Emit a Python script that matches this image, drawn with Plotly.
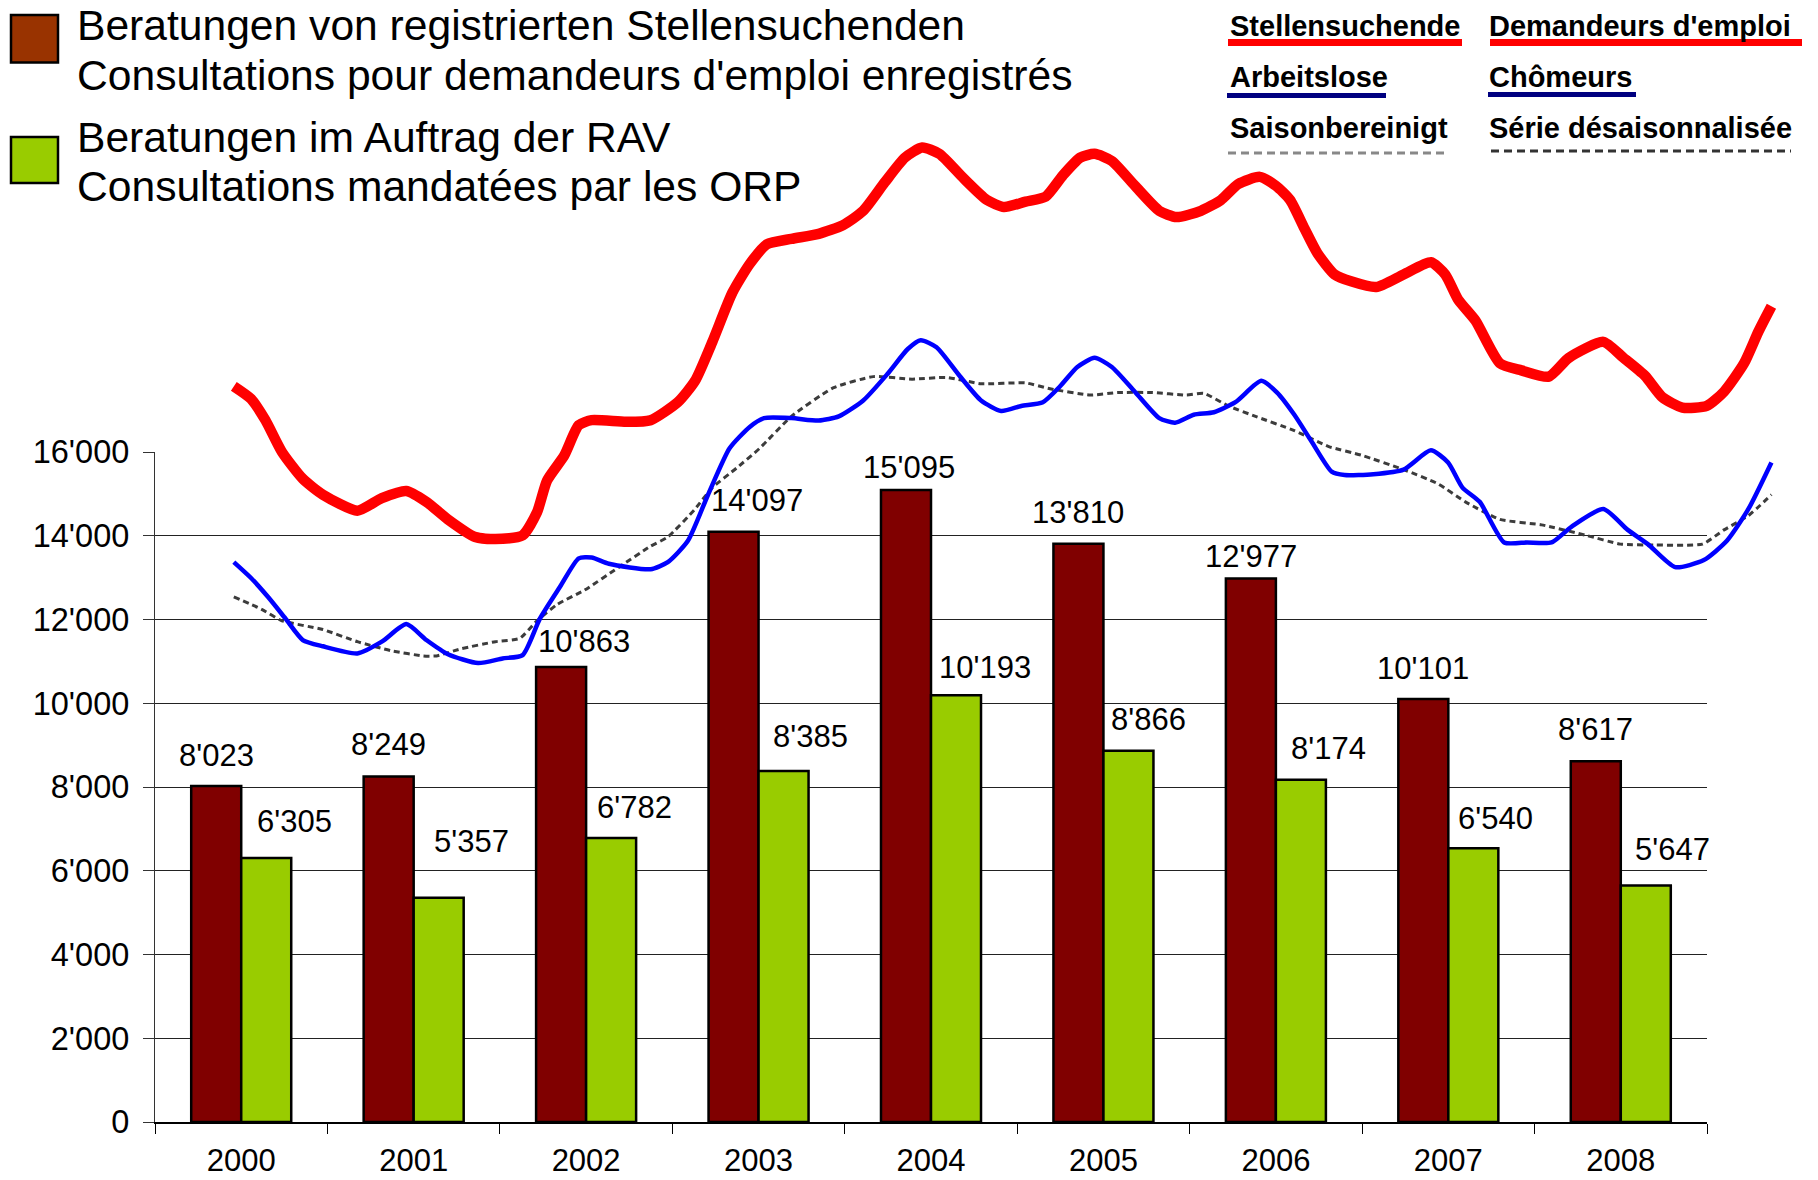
import plotly.graph_objects as go

W, H = 1818, 1180

# ---------------- data ----------------
years = ["2000", "2001", "2002", "2003", "2004", "2005", "2006", "2007", "2008"]
registered = [8023, 8249, 10863, 14097, 15095, 13810, 12977, 10101, 8617]
mandated = [6305, 5357, 6782, 8385, 10193, 8866, 8174, 6540, 5647]

y_tick_vals = [0, 2000, 4000, 6000, 8000, 10000, 12000, 14000, 16000]
y_tick_text = ["0", "2'000", "4'000", "6'000", "8'000", "10'000", "12'000", "14'000", "16'000"]

# monthly overlay series (months since Jan 2000, value on an unlabelled scale)
red_m = [0, 1.2, 2.2, 3.35, 4.8, 6.2, 8.6, 10.3, 12.0, 13.4, 14.9, 16.8, 18.2, 20.1, 21.1, 21.8, 23.0, 24.0,
         24.9, 27.3, 29.0, 30.9, 32.1, 33.3, 34.7, 35.9, 37.1, 38.8, 40.7, 42.4, 43.8, 45.3, 46.7, 47.9, 49.1,
         50.8, 52.4, 53.6, 55.1, 56.5, 57.7, 58.9, 59.9, 61.1, 62.7, 64.4, 65.6, 67.3, 68.7, 69.9, 71.4, 72.5,
         73.5, 74.5, 75.4, 76.6, 77.8, 79.5, 81.4, 83.3, 84.3, 85.2, 86.4, 88.1, 89.6, 91.5, 92.9, 95.3, 96.7,
         98.2, 99.4, 100.8, 102.5, 103.7, 105.1, 106.1, 107.0]
red_v = [17570, 17270, 16760, 16000, 15360, 14980, 14600, 14900, 15070, 14810, 14390, 13970, 13920, 14010, 14560,
         15320, 15920, 16640, 16760, 16720, 16760, 17190, 17700, 18630, 19810, 20490, 20960, 21090, 21210, 21420,
         21760, 22440, 23030, 23270, 23120, 22530, 22020, 21850, 21980, 22100, 22610, 23030, 23120, 22950, 22360,
         21760, 21610, 21760, 22020, 22400, 22570, 22360, 22020, 21340, 20750, 20240, 20070, 19940, 20240, 20530,
         20240, 19640, 19140, 18120, 17950, 17800, 18250, 18630, 18250, 17820, 17310, 17060, 17100, 17440, 18120,
         18880, 19480]

blue_m = [0, 1.2, 2.4, 3.6, 4.8, 6.2, 8.6, 10.3, 12.0, 13.4, 14.9, 17.0, 18.7, 20.1, 21.3, 22.7, 24.0, 24.9,
          26.1, 29.0, 30.2, 31.6, 33.0, 34.5, 35.9, 36.9, 38.8, 40.7, 42.1, 43.8, 45.5, 46.9, 47.8, 48.9, 50.5,
          52.0, 53.4, 54.8, 56.3, 57.5, 58.7, 59.9, 61.1, 62.7, 64.4, 65.5, 66.8, 68.2, 69.7, 71.5, 72.6, 73.8,
          75.0, 76.4, 77.3, 79.3, 81.4, 83.3, 84.5, 85.5, 86.7, 88.4, 90.0, 91.7, 93.1, 95.3, 97.0, 98.4, 100.3,
          102.3, 103.9, 105.4, 107.0]
blue_v = [13370, 12990, 12530, 12020, 11510, 11360, 11190, 11470, 11890, 11510, 11170, 10960, 11070, 11150, 12020,
          12780, 13460, 13480, 13330, 13200, 13370, 13880, 14980, 16090, 16600, 16810, 16810, 16750, 16850, 17230,
          17870, 18460, 18670, 18500, 17820, 17230, 16980, 17100, 17190, 17570, 18030, 18250, 18030, 17440, 16810,
          16700, 16890, 16950, 17190, 17700, 17420, 16890, 16250, 15530, 15450, 15470, 15580, 16040, 15750, 15150,
          14810, 13840, 13840, 13840, 14220, 14640, 14140, 13800, 13250, 13420, 13880, 14640, 15750]

sa_m = [0, 1.9, 3.35, 6.2, 8.6, 11.0, 13.2, 14.1, 15.8, 18.2, 19.9, 21.1, 22.5, 24.4, 26.8, 29.0, 30.2, 32.1,
        33.3, 35.0, 36.6, 38.8, 41.7, 44.5, 47.2, 49.6, 52.0, 55.1, 56.8, 59.6, 61.5, 63.9, 66.3, 67.5, 69.2,
        71.1, 73.8, 76.2, 78.5, 81.4, 83.8, 85.7, 88.1, 91.0, 94.1, 96.5, 98.9, 102.2, 103.7, 105.4, 107.0]
sa_v = [12540, 12250, 11970, 11760, 11470, 11250, 11130, 11130, 11300, 11470, 11550, 11970, 12360, 12700, 13250,
        13750, 13970, 14640, 15150, 15620, 16090, 16850, 17530, 17800, 17740, 17780, 17630, 17650, 17510, 17360,
        17420, 17420, 17360, 17400, 17100, 16850, 16510, 16130, 15920, 15580, 15240, 14810, 14390, 14260, 14010,
        13800, 13780, 13800, 14140, 14480, 14980]

legend_left = [
    ("Beratungen von registrierten Stellensuchenden", "Consultations pour demandeurs d'emploi enregistrés"),
    ("Beratungen im Auftrag der RAV", "Consultations mandatées par les ORP"),
]
legend_right = [
    ("Stellensuchende", "Demandeurs d'emploi"),
    ("Arbeitslose", "Chômeurs"),
    ("Saisonbereinigt", "Série désaisonnalisée"),
]

# ---------------- styles / layout geometry ----------------
FONT = "Liberation Sans, Arial, sans-serif"
RED_BAR, GREEN_BAR = "#800000", "#99cc00"
PX_L, PX_R, PX_R2 = 155, 1707, 1800       # plot left / right, overlay right (px)
PY_0, PY_16, PY_TOP = 1122, 452, 0        # zero line, 16'000 line, overlay top (px)

def fx(px):
    return px / W

def fy(py):
    return 1 - py / H

t_off = 0.043  # Jan 2000 sits slightly left of the 2000 category centre
x2_lo = 2000 - 0.5 + t_off
x2_hi = x2_lo + 9 * (PX_R2 - PX_L) / (PX_R - PX_L)
y2_hi = 16000 * (PY_0 - PY_TOP) / (PY_0 - PY_16)

fig = go.Figure()
fig.add_trace(go.Bar(x=years, y=registered, marker=dict(color=RED_BAR, line=dict(color="black", width=2.5)),
                     name="reg", showlegend=False, hoverinfo="skip"))
fig.add_trace(go.Bar(x=years, y=mandated, marker=dict(color=GREEN_BAR, line=dict(color="black", width=2.5)),
                     name="rav", showlegend=False, hoverinfo="skip"))

def tyear(ms):
    return [2000 + m / 12 for m in ms]

fig.add_trace(go.Scatter(x=tyear(sa_m), y=sa_v, mode="lines", xaxis="x2", yaxis="y2", showlegend=False,
                         line=dict(color="#3c3c3c", width=3, dash="6px,4px", shape="spline", smoothing=0.5)))
fig.add_trace(go.Scatter(x=tyear(blue_m), y=blue_v, mode="lines", xaxis="x2", yaxis="y2", showlegend=False,
                         line=dict(color="#0000ff", width=4.5, shape="spline", smoothing=0.6)))
fig.add_trace(go.Scatter(x=tyear(red_m), y=red_v, mode="lines", xaxis="x2", yaxis="y2", showlegend=False,
                         line=dict(color="#ff0000", width=10.5, shape="spline", smoothing=0.6)))

def fmt(v):
    return f"{v:,}".replace(",", "'")

annotations = []
red_dx = [0, 0, 23, 23, 3, 0, 0, 0, 0]
red_dy = [31, 32, 26, 31, 22, 31, 22, 31, 32]
green_dx = [28, 33, 23, 27, 29, 20, 28, 22, 27]
green_dy = [36, 56, 31, 34, 28, 31, 31, 30, 36]
for i, yr in enumerate(years):
    annotations.append(dict(x=i, y=registered[i], xref="x", yref="y", text=fmt(registered[i]), showarrow=False,
                            xshift=-25 + red_dx[i], yshift=red_dy[i], yanchor="middle",
                            font=dict(family=FONT, size=31, color="black")))
    annotations.append(dict(x=i, y=mandated[i], xref="x", yref="y", text=fmt(mandated[i]), showarrow=False,
                            xshift=25 + green_dx[i], yshift=green_dy[i], yanchor="middle",
                            font=dict(family=FONT, size=31, color="black")))

# left legend text
left_baselines = [(38, 88), (150, 199)]
for (l1, l2), (b1, b2) in zip(legend_left, left_baselines):
    for txt, b in ((l1, b1), (l2, b2)):
        annotations.append(dict(x=fx(75), y=fy(b - 13), xref="paper", yref="paper", text=txt, showarrow=False,
                                xanchor="left", yanchor="middle", font=dict(family=FONT, size=42.6, color="black")))

# right legend text
right_rows = [35, 86, 137]
for (de, fr), b in zip(legend_right, right_rows):
    annotations.append(dict(x=fx(1228), y=fy(b - 9), xref="paper", yref="paper", text=f"<b>{de}</b>",
                            showarrow=False, xanchor="left", yanchor="middle",
                            font=dict(family=FONT, size=29, color="black")))
    annotations.append(dict(x=fx(1487), y=fy(b - 9), xref="paper", yref="paper", text=f"<b>{fr}</b>",
                            showarrow=False, xanchor="left", yanchor="middle",
                            font=dict(family=FONT, size=29, color="black")))

shapes = [
    dict(type="rect", xref="paper", yref="paper", x0=fx(11), x1=fx(58), y0=fy(15), y1=fy(62.5),
         fillcolor="#993300", line=dict(color="black", width=2.5)),
    dict(type="rect", xref="paper", yref="paper", x0=fx(11), x1=fx(58), y0=fy(137), y1=fy(183),
         fillcolor="#99cc00", line=dict(color="black", width=2.5)),
    dict(type="line", xref="paper", yref="paper", x0=fx(1228), x1=fx(1462), y0=fy(42.5), y1=fy(42.5),
         line=dict(color="#ff0000", width=7)),
    dict(type="line", xref="paper", yref="paper", x0=fx(1490), x1=fx(1802), y0=fy(42.5), y1=fy(42.5),
         line=dict(color="#ff0000", width=7)),
    dict(type="line", xref="paper", yref="paper", x0=fx(1227), x1=fx(1386), y0=fy(95.5), y1=fy(95.5),
         line=dict(color="#000080", width=5)),
    dict(type="line", xref="paper", yref="paper", x0=fx(1488), x1=fx(1636), y0=fy(94.5), y1=fy(94.5),
         line=dict(color="#000080", width=5)),
    dict(type="line", xref="paper", yref="paper", x0=fx(1228), x1=fx(1447), y0=fy(153), y1=fy(153),
         line=dict(color="#888888", width=3, dash="8px,5px")),
    dict(type="line", xref="paper", yref="paper", x0=fx(1491), x1=fx(1791), y0=fy(151), y1=fy(151),
         line=dict(color="#333333", width=3, dash="8px,5px")),
]

fig.update_layout(
    width=W, height=H,
    margin=dict(l=0, r=0, t=0, b=0, pad=0, autoexpand=False),
    paper_bgcolor="white", plot_bgcolor="rgba(0,0,0,0)",
    barmode="group", bargap=0.42, bargroupgap=0,
    showlegend=False,
    font=dict(family=FONT, color="black"),
    xaxis=dict(type="category", domain=[fx(PX_L), fx(PX_R)], range=[-0.5, 8.5], anchor="y", automargin=False,
               showline=True, linecolor="black", linewidth=1.5, ticks="outside", ticklen=10, tickcolor="black",
               tickson="boundaries", tickfont=dict(size=31, family=FONT, color="black"), showgrid=False,
               ticklabelstandoff=10, fixedrange=True),
    yaxis=dict(domain=[fy(PY_0), fy(PY_16)], range=[0, 16000], anchor="x", automargin=False,
               tickvals=y_tick_vals, ticktext=y_tick_text, showline=True, linecolor="#333333", linewidth=1.2,
               ticks="outside", ticklen=11, tickcolor="#333333", showgrid=True, gridcolor="#222222", gridwidth=1,
               zeroline=False, tickfont=dict(size=32.5, family=FONT, color="black"), ticklabelstandoff=7,
               fixedrange=True),
    xaxis2=dict(domain=[fx(PX_L), fx(PX_R2)], range=[x2_lo, x2_hi], anchor="y2", visible=False,
                automargin=False, fixedrange=True),
    yaxis2=dict(domain=[fy(PY_0), fy(PY_TOP)], range=[0, y2_hi], anchor="x2", visible=False,
                automargin=False, fixedrange=True),
    annotations=annotations,
    shapes=shapes,
)

fig.write_html("out.html", config={"displayModeBar": False, "staticPlot": True},
               post_script="document.body.style.margin='0';document.body.style.overflow='hidden';")
